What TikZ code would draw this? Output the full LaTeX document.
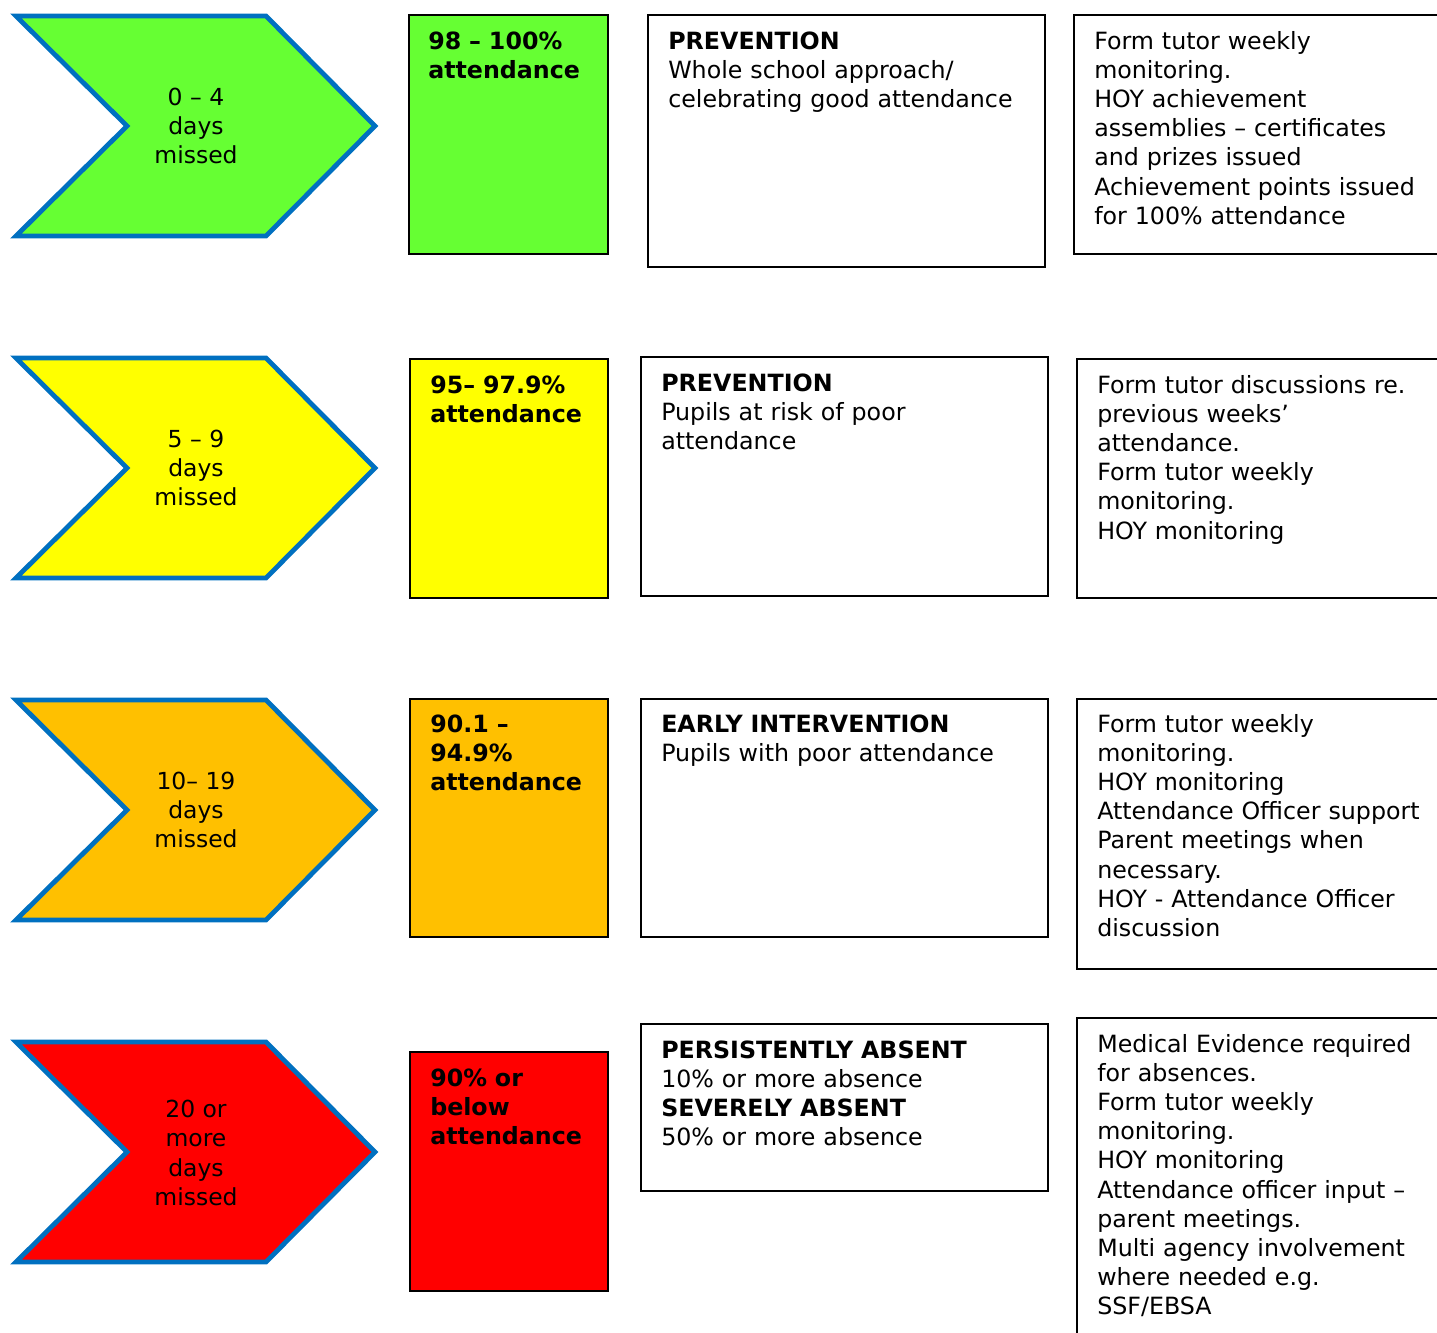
\documentclass[tikz,border=0pt]{standalone}
\usepackage{fontspec}
\setmainfont{DejaVu Sans}
\definecolor{chevblue}{HTML}{0070C0}
\definecolor{goodgreen}{HTML}{66FF33}
\definecolor{riskyellow}{HTML}{FFFF00}
\definecolor{pooramber}{HTML}{FFC000}
\definecolor{absentred}{HTML}{FF0000}
\tikzset{
  chev/.style={draw=chevblue, line width=3.6pt, line join=miter},
  box/.style={draw=black, line width=1.2pt},
  daystext/.style={align=center, inner sep=0pt, font=\fontsize{17.6pt}{21.9pt}\selectfont},
  boxtext/.style={anchor=base west, inner sep=0pt, align=left, text width=330pt,
    font=\fontsize{17.8pt}{21.9pt}\selectfont},
}
\begin{document}
\begin{tikzpicture}[x=0.75pt, y=-0.75pt]
    \useasboundingbox (0,0) rectangle (1437,1332);
    \clip (0,0) rectangle (1437,1332);
    \draw[chev, fill=goodgreen] (16,16) -- (266,16) -- (375,126) -- (266,236) -- (16,236) -- (127,126) -- cycle;
    \node[daystext] (days1) at (196,126) {0 – 4\\days\\missed};
    \draw[box, fill=goodgreen] (409,15) rectangle (608,254);
    \node[boxtext] (pct1) at (428,49) {\textbf{98 – 100\%}\\\textbf{attendance}};
    \draw[box] (648,15) rectangle (1045,267);
    \node[boxtext] (stage1) at (668,49) {\textbf{PREVENTION}\\Whole school approach/\\celebrating good attendance};
    \draw[box] (1074,15) rectangle (1460,254);
    \node[boxtext] (act1) at (1094,49) {Form tutor weekly\\monitoring.\\HOY achievement\\assemblies – certificates\\and prizes issued\\Achievement points issued\\for 100\% attendance};

    \draw[chev, fill=riskyellow] (16,358) -- (266,358) -- (375,468) -- (266,578) -- (16,578) -- (127,468) -- cycle;
    \node[daystext] (days2) at (196,468) {5 – 9\\days\\missed};
    \draw[box, fill=riskyellow] (410,359) rectangle (608,598);
    \node[boxtext] (pct2) at (430,393) {\textbf{95– 97.9\%}\\\textbf{attendance}};
    \draw[box] (641,357) rectangle (1048,596);
    \node[boxtext] (stage2) at (661,391) {\textbf{PREVENTION}\\Pupils at risk of poor\\attendance};
    \draw[box] (1077,359) rectangle (1460,598);
    \node[boxtext] (act2) at (1097,393) {Form tutor discussions re.\\previous weeks’\\attendance.\\Form tutor weekly\\monitoring.\\HOY monitoring};

    \draw[chev, fill=pooramber] (16,700) -- (266,700) -- (375,810) -- (266,920) -- (16,920) -- (127,810) -- cycle;
    \node[daystext] (days3) at (196,810) {10– 19\\days\\missed};
    \draw[box, fill=pooramber] (410,699) rectangle (608,937);
    \node[boxtext] (pct3) at (430,732) {\textbf{90.1 –}\\\textbf{94.9\%}\\\textbf{attendance}};
    \draw[box] (641,699) rectangle (1048,937);
    \node[boxtext] (stage3) at (661,732) {\textbf{EARLY INTERVENTION}\\Pupils with poor attendance};
    \draw[box] (1077,699) rectangle (1460,969);
    \node[boxtext] (act3) at (1097,732) {Form tutor weekly\\monitoring.\\HOY monitoring\\Attendance Officer support\\Parent meetings when\\necessary.\\HOY - Attendance Officer\\discussion};

    \draw[chev, fill=absentred] (16,1042) -- (266,1042) -- (375,1152) -- (266,1262) -- (16,1262) -- (127,1152) -- cycle;
    \node[daystext] (days4) at (196,1153) {20 or\\more\\days\\missed};
    \draw[box, fill=absentred] (410,1052) rectangle (608,1291);
    \node[boxtext] (pct4) at (430,1086) {\textbf{90\% or}\\\textbf{below}\\\textbf{attendance}};
    \draw[box] (641,1024) rectangle (1048,1191);
    \node[boxtext] (stage4) at (661,1058) {\textbf{PERSISTENTLY ABSENT}\\10\% or more absence\\\textbf{SEVERELY ABSENT}\\50\% or more absence};
    \draw[box] (1077,1018) rectangle (1460,1360);
    \node[boxtext] (act4) at (1097,1052) {Medical Evidence required\\for absences.\\Form tutor weekly\\monitoring.\\HOY monitoring\\Attendance officer input –\\parent meetings.\\Multi agency involvement\\where needed e.g.\\SSF/EBSA};
\end{tikzpicture}
\end{document}
